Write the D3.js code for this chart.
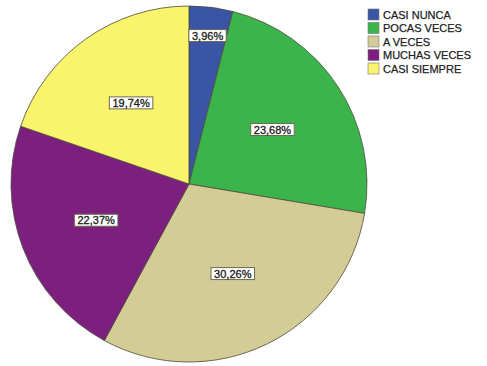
<!DOCTYPE html>
<html>
<head>
<meta charset="utf-8">
<script src="https://cdn.jsdelivr.net/npm/d3@7"></script>
<style>
  html, body { margin: 0; padding: 0; background: #fff; }
  svg { display: block; }
  text { font-family: "Liberation Sans", Arial, sans-serif; }
</style>
</head>
<body>
<svg id="chart" width="487" height="366"></svg>
<script>
// Response categories, percentage shares and slice colours
const categories = ["CASI NUNCA", "POCAS VECES", "A VECES", "MUCHAS VECES", "CASI SIEMPRE"];
const percents = [3.96, 23.68, 30.26, 22.37, 19.74];
const colors = ["#3b55a6", "#3bb54b", "#d3cc94", "#7c1f7e", "#faf36c"];

const width = 487, height = 366;
const cx = 189, cy = 184, R = 178;
const fmt = v => v.toFixed(2).replace(".", ",") + "%";

const svg = d3.select("#chart");
const g = svg.append("g").attr("transform", `translate(${cx},${cy})`);

const pie = d3.pie().sort(null).value(d => d.pct);
const arcs = pie(categories.map((c, i) => ({ cat: c, pct: percents[i], color: colors[i] })));
const arc = d3.arc().innerRadius(0).outerRadius(R);

g.selectAll("path.slice")
  .data(arcs)
  .join("path")
  .attr("class", "slice")
  .attr("d", arc)
  .attr("fill", d => d.data.color)
  .attr("stroke", "#4a4a3a")
  .attr("stroke-width", 0.8);

// Percentage labels: boxed, placed along the slice bisector; narrow slices push outward
const labelG = g.selectAll("g.lbl").data(arcs).join("g").attr("class", "lbl");
labelG.each(function (d) {
  const sel = d3.select(this);
  const t = sel.append("text")
    .attr("text-anchor", "middle")
    .attr("dominant-baseline", "central")
    .attr("font-size", 11)
    .attr("fill", "#1a1a1a")
    .attr("stroke", "#1a1a1a")
    .attr("stroke-width", 0.3)
    .text(fmt(d.data.pct));
  const bb = t.node().getBBox();
  const w = bb.width + 6, h = 12;
  const mid = (d.startAngle + d.endAngle) / 2;
  const half = (d.endAngle - d.startAngle) / 2;
  let r = R * 0.56;
  if (half < Math.PI / 2) r = Math.max(r, (w / 2) / Math.tan(half));
  const x = Math.sin(mid) * r, y = -Math.cos(mid) * r;
  sel.attr("transform", `translate(${x},${y})`);
  sel.insert("rect", "text")
    .attr("x", -w / 2).attr("y", -h / 2)
    .attr("width", w).attr("height", h)
    .attr("fill", "#ffffff")
    .attr("stroke", "#6b6b50")
    .attr("stroke-width", 1);
});

// Legend
const legend = svg.append("g").attr("transform", "translate(368,9)");
const rowH = 13.5;
const items = legend.selectAll("g").data(categories).join("g")
  .attr("transform", (d, i) => `translate(0,${i * rowH})`);
items.append("rect")
  .attr("width", 11).attr("height", 11)
  .attr("fill", (d, i) => colors[i])
  .attr("stroke", "#777")
  .attr("stroke-width", 0.6);
items.append("text")
  .attr("x", 15).attr("y", 5.5)
  .attr("dominant-baseline", "central")
  .attr("font-size", 11)
  .attr("fill", "#222")
  .attr("stroke", "#222")
  .attr("stroke-width", 0.25)
  .text(d => d);
</script>
</body>
</html>
